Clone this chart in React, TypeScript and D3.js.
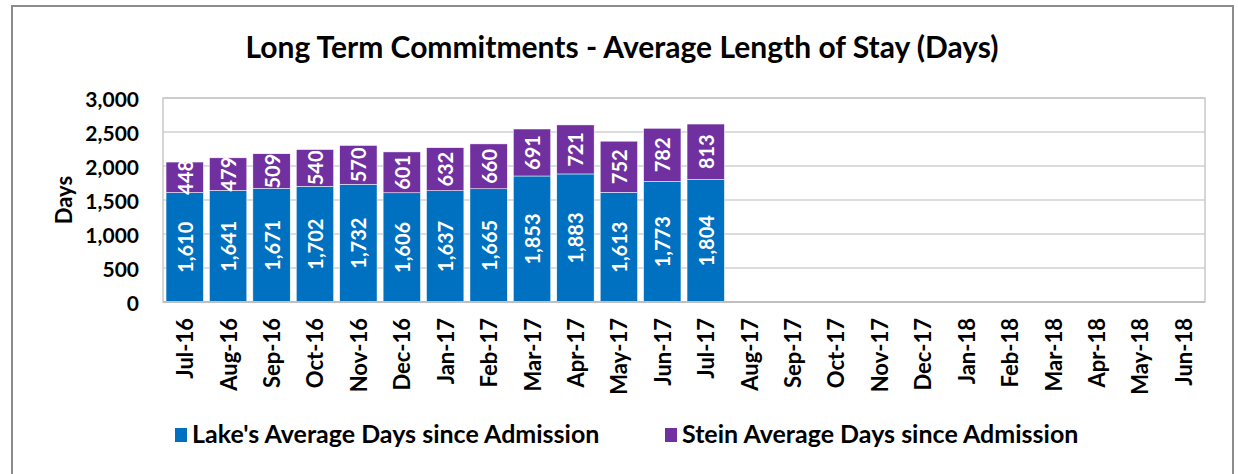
import React from "react";
import * as d3 from "d3";

const months = ["Jul-16","Aug-16","Sep-16","Oct-16","Nov-16","Dec-16","Jan-17","Feb-17","Mar-17","Apr-17","May-17","Jun-17","Jul-17","Aug-17","Sep-17","Oct-17","Nov-17","Dec-17","Jan-18","Feb-18","Mar-18","Apr-18","May-18","Jun-18"];
const lakeValues = [1610,1641,1671,1702,1732,1606,1637,1665,1853,1883,1613,1773,1804];
const steinValues = [448,479,509,540,570,601,632,660,691,721,752,782,813];
const yTicks = [0,500,1000,1500,2000,2500,3000];
const seriesNames = ["Lake's Average Days since Admission","Stein Average Days since Admission"];
const colors = ["#0070C0","#7030A0"];

const W = 1238, H = 474;
const plot = { left: 163, right: 1205, top: 98, bottom: 302 };
const FONT = "Lato, 'Open Sans', sans-serif";

export default function App() {
  const x = d3.scaleBand<string>().domain(months).range([plot.left, plot.right]).paddingInner(0.14).paddingOuter(0.07);
  const y = d3.scaleLinear().domain([0, 3000]).range([plot.bottom, plot.top]);
  const fmt = d3.format(",");
  const rows = lakeValues.map((v, i) => ({ m: months[i], lake: v, stein: steinValues[i] }));
  const stack = d3.stack<any>().keys(["lake", "stein"])(rows);

  return (
    <svg width={W} height={H} style={{ position: "absolute", left: 0, top: 0, background: "#fff" }} fontFamily={FONT}>
      <rect x={0} y={0} width={W} height={H} fill="#fff" />
      <rect x={12} y={6} width={1221} height={480} fill="#fff" stroke="#8c8c8c" strokeWidth={2} />
      <text x={622} y={58} textAnchor="middle" fontSize={30} fontWeight="bold" fill="#000">
        Long Term Commitments - Average Length of Stay (Days)
      </text>
      {yTicks.map(t => (
        <line key={t} x1={plot.left} x2={plot.right} y1={y(t)} y2={y(t)} stroke="#d0d0d0" strokeWidth={1.5} />
      ))}
      <rect x={plot.left} y={plot.top} width={plot.right - plot.left} height={plot.bottom - plot.top} fill="none" stroke="#c8c8c8" strokeWidth={1.5} />
      {stack.map((s, si) => (
        <g key={si}>
          {s.map((d: any, i: number) => {
            const bx = x(d.data.m)!;
            const bw = x.bandwidth();
            const y0 = y(d[0]), y1 = y(d[1]);
            const val = d[1] - d[0];
            const cx = bx + bw / 2, cy = (y0 + y1) / 2;
            return (
              <g key={i}>
                <rect x={bx} y={y1} width={bw} height={y0 - y1} fill={colors[si]} stroke="#fff" strokeWidth={0.5} />
                <text x={cx} y={cy} transform={`rotate(-90 ${cx} ${cy})`} textAnchor="middle" dominantBaseline="central" fill="#fff" fontWeight="bold" fontSize={20}>
                  {fmt(val)}
                </text>
              </g>
            );
          })}
        </g>
      ))}
      <line x1={plot.left} x2={plot.right} y1={plot.bottom} y2={plot.bottom} stroke="#bfbfbf" strokeWidth={2} />
      {yTicks.map(t => (
        <text key={t} x={139} y={y(t)} textAnchor="end" dominantBaseline="central" fontSize={21} fontWeight="bold" fill="#000">
          {fmt(t)}
        </text>
      ))}
      <text x={63} y={200} transform="rotate(-90 63 200)" textAnchor="middle" dominantBaseline="central" fontSize={22} fontWeight="bold">Days</text>
      {months.map(m => {
        const cx = x(m)! + x.bandwidth() / 2;
        const cy = 318;
        return (
          <text key={m} x={cx} y={cy} transform={`rotate(-90 ${cx} ${cy})`} textAnchor="end" dominantBaseline="central" fontSize={22} fontWeight="bold" fill="#000">
            {m}
          </text>
        );
      })}
      {seriesNames.map((n, i) => {
        const lx = i === 0 ? 175 : 665;
        return (
          <g key={n}>
            <rect x={lx} y={428} width={12} height={14} fill={colors[i]} />
            <text x={lx + 17} y={443} fontSize={25} fontWeight="bold" fill="#000">{n}</text>
          </g>
        );
      })}
    </svg>
  );
}
